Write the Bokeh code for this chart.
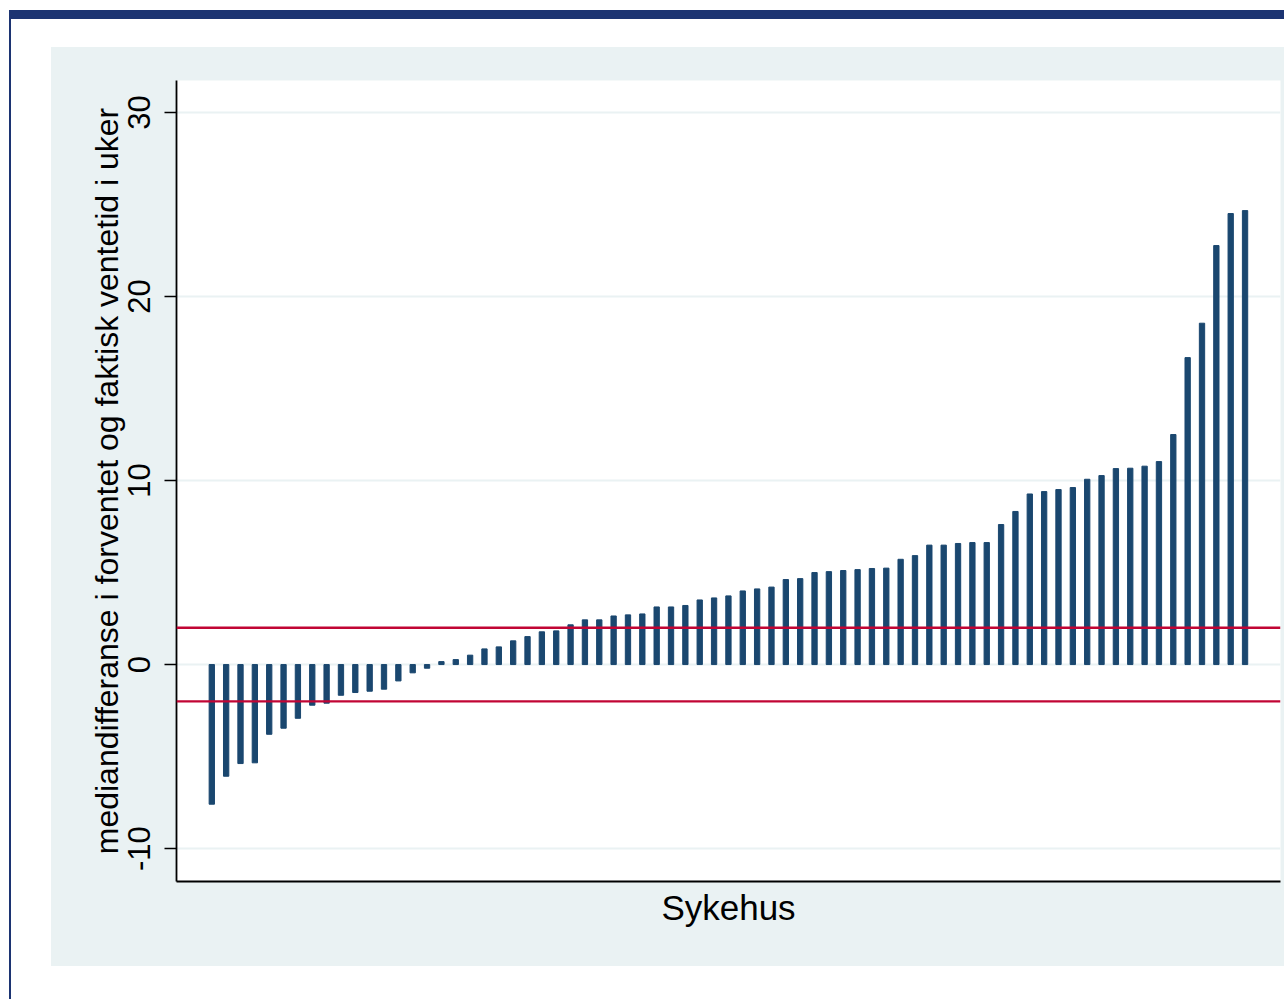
from bokeh.plotting import figure
from bokeh.models import Range1d, Span, FixedTicker
from bokeh.embed import file_html
from bokeh.resources import INLINE

# --- data ---
rank = list(range(1, 74))  # hospitals, sorted by value
values = [-7.59, -6.07, -5.38, -5.34, -3.79, -3.46, -2.92, -2.21, -2.10, -1.67,
          -1.52, -1.45, -1.34, -0.89, -0.45, -0.20, 0.16, 0.27, 0.51, 0.85,
          0.96, 1.29, 1.52, 1.78, 1.83, 2.16, 2.43, 2.43, 2.64, 2.70,
          2.75, 3.13, 3.13, 3.21, 3.51, 3.62, 3.73, 4.00, 4.11, 4.21,
          4.62, 4.67, 5.00, 5.05, 5.11, 5.16, 5.22, 5.24, 5.72, 5.92,
          6.49, 6.49, 6.58, 6.63, 6.63, 7.61, 8.32, 9.27, 9.40, 9.51,
          9.62, 10.07, 10.27, 10.65, 10.67, 10.78, 11.03, 12.50, 16.68, 18.55,
          22.77, 24.51, 24.67]
y_ticks = [-10, 0, 10, 20, 30]
y_tick_labels = ["-10", "0", "10", "20", "30"]
ref_lines = [-2, 2]
x_title = "Sykehus"
y_title = "mediandifferanse i forventet og faktisk ventetid i uker"

BAR = "#1a476f"
RED = "#c10534"
PANEL = "#eaf2f3"
NAVY = "#1c3472"
FONT = "Liberation Sans"

W, H = 1284, 999
p = figure(width=W, height=H, output_backend="svg", toolbar_location=None,
           x_range=Range1d(-1.46, 75.47), y_range=Range1d(-11.79, 31.74),
           min_border_left=176, min_border_right=4, min_border_top=80,
           min_border_bottom=118)
p.border_fill_color = None
p.background_fill_color = "white"
p.outline_line_color = None

# page decoration behind the (transparent) border area: navy rules + light panel
p.styles = {
    "background": (
        f"linear-gradient({NAVY},{NAVY}) 9px 10px / 1275px 9px no-repeat, "
        f"linear-gradient({NAVY},{NAVY}) 9px 10px / 2px 989px no-repeat, "
        f"linear-gradient({PANEL},{PANEL}) 51px 47px / 1233px 919px no-repeat, "
        "#ffffff"
    )
}

p.vbar(x=rank, top=values, bottom=0, width=0.37, color=BAR)

for v in ref_lines:
    p.add_layout(Span(location=v, dimension="width", line_color=RED, line_width=2.3))

# grid
p.xgrid.visible = False
p.ygrid.ticker = FixedTicker(ticks=y_ticks)
p.ygrid.grid_line_color = PANEL
p.ygrid.grid_line_width = 2

# x axis: line and title only
p.xaxis.ticker = FixedTicker(ticks=[])
p.xaxis.major_tick_out = 0
p.xaxis.major_tick_in = 0
p.xaxis.minor_tick_line_color = None
p.xaxis.axis_line_color = "black"
p.xaxis.axis_line_width = 2
p.xaxis.axis_label = x_title
p.xaxis.axis_label_text_font = FONT
p.xaxis.axis_label_text_font_size = "35px"
p.xaxis.axis_label_text_font_style = "normal"
p.xaxis.axis_label_text_color = "black"
p.xaxis.axis_label_standoff = 6

# y axis
p.yaxis.ticker = FixedTicker(ticks=y_ticks)
p.yaxis.major_label_overrides = dict(zip(y_ticks, y_tick_labels))
p.yaxis.major_label_orientation = "vertical"
p.yaxis.major_tick_out = 12
p.yaxis.major_tick_in = 0
p.yaxis.minor_tick_line_color = None
p.yaxis.major_tick_line_color = "black"
p.yaxis.major_tick_line_width = 1.5
p.yaxis.axis_line_color = "black"
p.yaxis.axis_line_width = 1.8
p.yaxis.major_label_text_font = FONT
p.yaxis.major_label_text_font_size = "31px"
p.yaxis.major_label_text_color = "black"
p.yaxis.major_label_standoff = 14
p.yaxis.axis_label = y_title
p.yaxis.axis_label_text_font = FONT
p.yaxis.axis_label_text_font_size = "32px"
p.yaxis.axis_label_text_font_style = "normal"
p.yaxis.axis_label_text_color = "black"
p.yaxis.axis_label_standoff = 1

open("out.html", "w").write(file_html(p, INLINE))
